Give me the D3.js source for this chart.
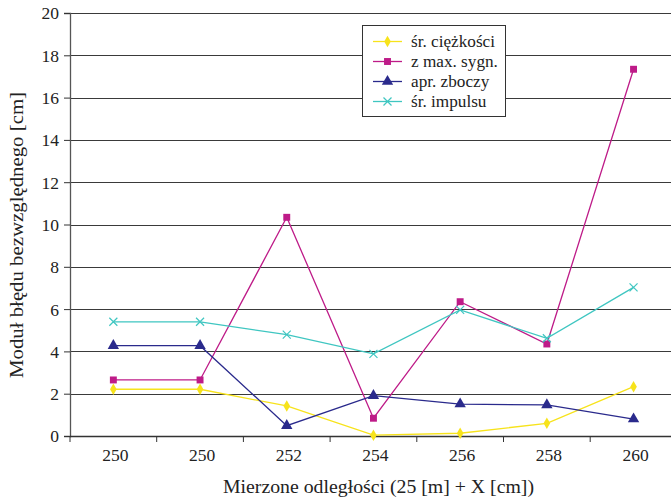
<!DOCTYPE html>
<html><head><meta charset="utf-8">
<script src="https://cdn.jsdelivr.net/npm/d3@7"></script>
<style>body{margin:0;background:#fff}svg{display:block}</style>
</head><body><svg id="c" width="671" height="500" font-family="Liberation Serif"></svg>
<script>
const categories = ["250","250","252","254","256","258","260"];
const yTicks = [0,2,4,6,8,10,12,14,16,18,20];
const seriesNames = ["śr. ciężkości","z max. sygn.","apr. zboczy","śr. impulsu"];
const srCiezkosci = [2.21,2.21,1.42,0.04,0.13,0.6,2.33];
const zMaxSygn = [2.65,2.65,10.34,0.84,6.35,4.35,17.34];
const aprZboczy = [4.27,4.27,0.49,1.91,1.51,1.47,0.8];
const srImpulsu = [5.4,5.4,4.79,3.88,5.96,4.62,7.03];
const colors = ["#f7e31b","#be1b88","#2a2a8c","#3fc6c1"];
const symbols = ["diamond","square","triangle","x"];
const FONT = "Liberation Serif";

const svg = d3.select("#c");
const m = {l:70, t:13, r:0, b:64};
const plotW = 86.7*7, plotH = 423;
const x = d3.scaleBand().domain(d3.range(categories.length)).range([m.l, m.l+plotW]).padding(0);
const y = d3.scaleLinear().domain([0,20]).range([m.t+plotH, m.t]);

// gridlines
svg.append("g").selectAll("line").data(yTicks.filter(d=>d>0)).join("line")
  .attr("x1", m.l).attr("x2", 671).attr("y1", d=>Math.round(y(d))+0.5).attr("y2", d=>Math.round(y(d))+0.5)
  .attr("stroke","#3a3a3a").attr("stroke-width",1.2);

// y axis
const ya = svg.append("g").attr("transform",`translate(${m.l},0)`)
  .call(d3.axisLeft(y).tickValues(yTicks).tickSize(6).tickPadding(5))
  .attr("font-family",FONT).attr("font-size",17.5);
ya.select(".domain").attr("stroke","#555").attr("stroke-width",1.3);
ya.selectAll(".tick line").attr("stroke","#333");
ya.selectAll("text").attr("font-family",FONT).attr("font-size",17.5).attr("fill","#222").attr("dy","0.34em");

// x axis
const xb = m.t+plotH;
const xa = svg.append("g").attr("transform",`translate(0,${xb})`)
  .call(d3.axisBottom(x).tickFormat(i=>categories[i]).tickSize(0).tickPadding(0))
  .attr("font-family",FONT).attr("font-size",17.5);
xa.select(".domain").remove();
xa.selectAll("text").attr("font-family",FONT).attr("font-size",17.5).attr("fill","#222").attr("dy",null).attr("y",25).attr("dx",2);
svg.append("line").attr("x1",m.l).attr("x2",671).attr("y1",xb+0.5).attr("y2",xb+0.5).attr("stroke","#333").attr("stroke-width",1.3);
const bounds = d3.range(categories.length+1).map(i=> i<categories.length ? x(i) : x(categories.length-1)+x.bandwidth());
svg.append("g").selectAll("line").data(bounds).join("line")
  .attr("x1",d=>d).attr("x2",d=>d).attr("y1",xb).attr("y2",xb+6).attr("stroke","#333");

// axis titles
svg.append("text").attr("x",378.5).attr("y",493).attr("text-anchor","middle").attr("font-family",FONT).attr("font-size",18.5).attr("fill","#222")
  .attr("textLength",311).attr("lengthAdjust","spacingAndGlyphs").text("Mierzone odległości (25 [m] + X [cm])");
svg.append("text").attr("transform","translate(23,235) rotate(-90)").attr("text-anchor","middle").attr("font-family",FONT).attr("font-size",18.5).attr("fill","#222")
  .attr("textLength",286).attr("lengthAdjust","spacingAndGlyphs").text("Moduł błędu bezwzględnego [cm]");

// series
const data = [srCiezkosci, zMaxSygn, aprZboczy, srImpulsu];
const cx = i => x(i)+x.bandwidth()/2;
function marker(g, type, color, px, py){
  if(type==="x"){
    const s=4;
    g.append("path").attr("d",`M${px-s},${py-s}L${px+s},${py+s}M${px-s},${py+s}L${px+s},${py-s}`).attr("stroke",color).attr("stroke-width",1.2).attr("fill","none");
  } else {
    const t = type==="diamond"?d3.symbolDiamond:type==="square"?d3.symbolSquare:d3.symbolTriangle;
    const size = type==="diamond"?38:type==="square"?48:56;
    g.append("path").attr("d",d3.symbol().type(t).size(size)()).attr("transform",`translate(${px},${py})`).attr("fill",color);
  }
}
const line = d3.line().x((d,i)=>cx(i)).y(d=>y(d));
data.forEach((vals,k)=>{
  svg.append("path").datum(vals).attr("d",line).attr("fill","none").attr("stroke",colors[k]).attr("stroke-width",1.3);
});
data.forEach((vals,k)=>{
  const g = svg.append("g");
  vals.forEach((v,i)=>marker(g, symbols[k], colors[k], cx(i), y(v)));
});

// legend
const lg = svg.append("g");
lg.append("rect").attr("x",362.5).attr("y",25.5).attr("width",143).attr("height",91).attr("fill","#fff").attr("stroke","#333").attr("stroke-width",1);
seriesNames.forEach((n,k)=>{
  const ly = 41.5 + k*20;
  lg.append("line").attr("x1",373).attr("x2",402).attr("y1",ly).attr("y2",ly).attr("stroke",colors[k]).attr("stroke-width",1.3);
  marker(lg, symbols[k], colors[k], 387.5, ly);
  lg.append("text").attr("x",411).attr("y",ly+5).attr("font-family",FONT).attr("font-size",17.2).attr("fill","#222").text(n);
});
</script></body></html>
